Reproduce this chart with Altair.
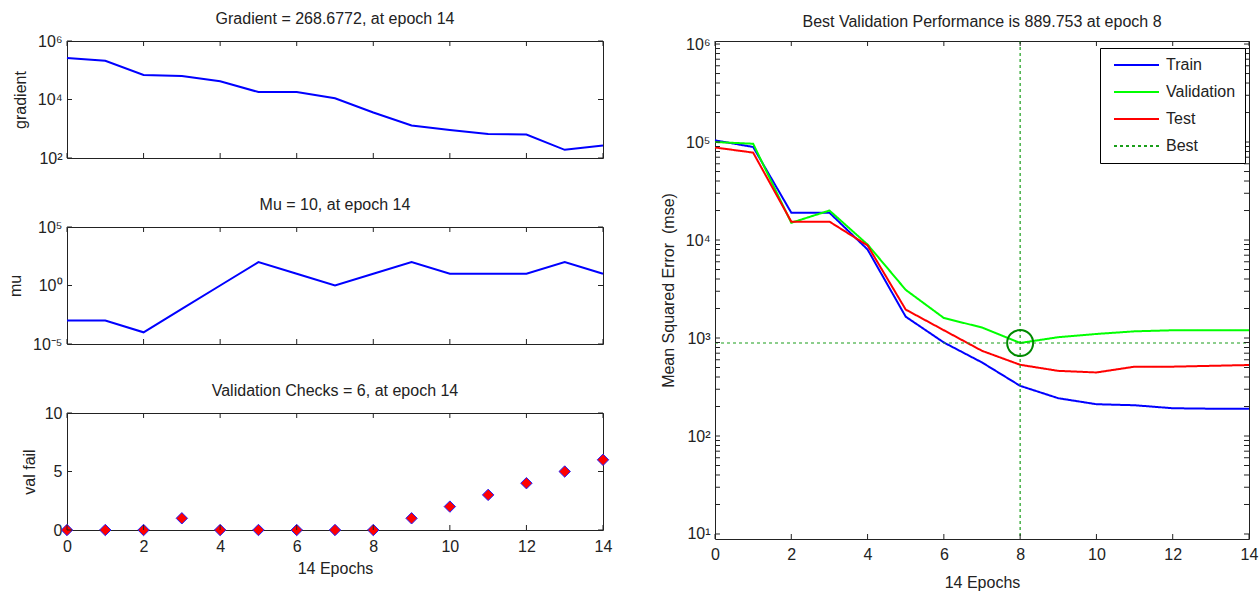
import altair as alt
import pandas as pd

# ---------------- data ----------------
epochs = list(range(15))
gradient = [2.6e5, 2.1e5, 6.9e4, 6.3e4, 4.2e4, 1.8e4, 1.8e4, 1.1e4, 3.6e3, 1.3e3,
            9.1e2, 6.6e2, 6.3e2, 1.9e2, 268.6772]
mu = [1e-3, 1e-3, 1e-4, 1e-2, 1e0, 1e2, 1e1, 1e0, 1e1, 1e2, 1e1, 1e1, 1e1, 1e2, 1e1]
val_fail = [0, 0, 0, 1, 0, 0, 0, 0, 0, 1, 2, 3, 4, 5, 6]
train = [1.04e5, 8.9e4, 1.9e4, 1.9e4, 8.0e3, 1.65e3, 900, 563, 325, 243, 211, 206, 192, 190, 190]
validation = [1.0e5, 9.6e4, 1.5e4, 2.0e4, 9.0e3, 3.1e3, 1.6e3, 1.28e3, 889.753, 1.02e3,
              1.1e3, 1.17e3, 1.2e3, 1.2e3, 1.2e3]
test = [8.8e4, 7.8e4, 1.54e4, 1.54e4, 8.8e3, 1.95e3, 1.2e3, 740, 533, 462, 445, 510, 510, 520, 530]
series_names = ["Train", "Validation", "Test", "Best"]
series_colors = ["#0000ff", "#00ff00", "#ff0000", "#1a9e1a"]
best_epoch = 8
best_perf = 889.753

xticks = list(range(0, 15, 2))
grad_ticks = [1e2, 1e4, 1e6]
mu_ticks = [1e-5, 1e0, 1e5]
fail_ticks = [0, 5, 10]
perf_major = [1e1, 1e2, 1e3, 1e4, 1e5, 1e6]
perf_minor = [m * 10 ** k for k in range(1, 6) for m in range(2, 10)]
perf_ylim = [8.89, 1.074e6]

# ---------------- style ----------------
INK = "#222222"
FONT = "Liberation Sans, Arial, sans-serif"
WL, HL = 536, 117
WR, HR = 534, 498
TL = 5
PAD_L, PAD_T = 7, 10
SUP = ("'10' + (round(log(datum.value)/LN10) < 0 ? '\u207b' : '') + "
       "['\u2070','\u00b9','\u00b2','\u00b3','\u2074','\u2075','\u2076','\u2077','\u2078','\u2079']"
       "[abs(round(log(datum.value)/LN10))]")

xscale = alt.Scale(domain=[0, 14], nice=False)


def x_axis(show=True, lpad=8, tpad=6):
    if not show:
        return alt.Axis(labels=False, ticks=False, domain=False, grid=False, title=None)
    return alt.Axis(values=xticks, ticks=False, domain=False, grid=False, labelFlush=False,
                    labelPadding=lpad, title="14 Epochs", titlePadding=tpad, labelFontSize=16,
                    titleFontSize=16, titleFontWeight="normal")


def y_axis(title, values, log=True, tpad=9):
    kw = dict(values=values, ticks=False, domain=False, grid=False, labelFlush=False,
              labelOverlap=False, labelPadding=5, title=title, titlePadding=tpad,
              labelFontSize=16, titleFontSize=16, titleFontWeight="normal")
    if log:
        kw["labelExpr"] = SUP
    return alt.Axis(**kw)


def tick_rules(W, H, yvals, xax, yax):
    xdf = pd.DataFrame({"epoch": xticks})
    ydf = pd.DataFrame({"v": yvals})
    m = dict(color=INK, strokeWidth=1)
    return [
        alt.Chart(xdf).mark_rule(**m).encode(x=alt.X("epoch:Q", axis=xax),
                                              y=alt.value(H), y2=alt.value(H - TL)),
        alt.Chart(xdf).mark_rule(**m).encode(x=alt.X("epoch:Q", axis=xax),
                                              y=alt.value(0), y2=alt.value(TL)),
        alt.Chart(ydf).mark_rule(**m).encode(y=alt.Y("v:Q", axis=yax),
                                              x=alt.value(0), x2=alt.value(TL)),
        alt.Chart(ydf).mark_rule(**m).encode(y=alt.Y("v:Q", axis=yax),
                                              x=alt.value(W), x2=alt.value(W - TL)),
    ]


def ptitle(text):
    return alt.TitleParams(text=text, fontSize=16, fontWeight="normal", font=FONT, color=INK)


# ---------------- gradient ----------------
xa, ya = x_axis(False), y_axis("gradient", grad_ticks)
gdf = pd.DataFrame({"epoch": epochs, "v": gradient})
g_line = alt.Chart(gdf).mark_line(color="#0000ff", strokeWidth=2).encode(
    x=alt.X("epoch:Q", scale=xscale, axis=xa),
    y=alt.Y("v:Q", scale=alt.Scale(type="log", domain=[1e2, 1e6], nice=False), axis=ya),
)
p1 = alt.layer(g_line, *tick_rules(WL, HL, grad_ticks, xa, ya)).properties(
    width=WL, height=HL, title=ptitle("Gradient = 268.6772, at epoch 14"))

# ---------------- mu ----------------
xa, ya = x_axis(False), y_axis("mu", mu_ticks)
mdf = pd.DataFrame({"epoch": epochs, "v": mu})
m_line = alt.Chart(mdf).mark_line(color="#0000ff", strokeWidth=2).encode(
    x=alt.X("epoch:Q", scale=xscale, axis=xa),
    y=alt.Y("v:Q", scale=alt.Scale(type="log", domain=[1e-5, 1e5], nice=False), axis=ya),
)
p2 = alt.layer(m_line, *tick_rules(WL, HL, mu_ticks, xa, ya)).properties(
    width=WL, height=HL, title=ptitle("Mu = 10, at epoch 14"))

# ---------------- val fail ----------------
xa, ya = x_axis(True, 8, 6), y_axis("val fail", fail_ticks, log=False, tpad=7)
fdf = pd.DataFrame({"epoch": epochs, "v": val_fail})
f_pts = alt.Chart(fdf).mark_point(shape="diamond", filled=True, fill="#ff0000", stroke="#2020ff",
                                  strokeWidth=1, size=130, opacity=1).encode(
    x=alt.X("epoch:Q", scale=xscale, axis=xa),
    y=alt.Y("v:Q", scale=alt.Scale(domain=[0, 10], nice=False), axis=ya),
)
p3 = alt.layer(f_pts, *tick_rules(WL, HL, fail_ticks, xa, ya)).properties(
    width=WL, height=HL, title=ptitle("Validation Checks = 6, at epoch 14"))

# ---------------- performance ----------------
xa, ya = x_axis(True, 7, 12), y_axis("Mean Squared Error\u00a0 (mse)", perf_major)
perf = pd.DataFrame({
    "epoch": epochs * 3,
    "v": train + validation + test,
    "series": ["Train"] * 15 + ["Validation"] * 15 + ["Test"] * 15,
})
cscale = alt.Scale(domain=series_names, range=series_colors)
dscale = alt.Scale(domain=series_names, range=[[1, 0], [1, 0], [1, 0], [3, 3]])
leg = alt.Legend(title=None, orient="none", legendX=1100 - 67, legendY=48 - 41,
                 symbolType="M-1,0H14", symbolSize=36, symbolStrokeWidth=2,
                 labelOffset=41, labelFontSize=16, labelFont=FONT, labelColor=INK,
                 strokeColor="#000000", fillColor="#ffffff", padding=9, rowPadding=11)
perf_lines = alt.Chart(perf).mark_line(strokeWidth=2).encode(
    x=alt.X("epoch:Q", scale=xscale, axis=xa),
    y=alt.Y("v:Q", scale=alt.Scale(type="log", domain=perf_ylim, nice=False), axis=ya),
    color=alt.Color("series:N", scale=cscale, legend=leg),
    strokeDash=alt.StrokeDash("series:N", scale=dscale, legend=leg),
)
vbest = alt.Chart(pd.DataFrame({"epoch": [best_epoch], "series": ["Best"]})).mark_rule(
    strokeWidth=1.2).encode(
    x=alt.X("epoch:Q", axis=xa), y=alt.value(0), y2=alt.value(HR),
    color=alt.Color("series:N", scale=cscale, legend=leg),
    strokeDash=alt.StrokeDash("series:N", scale=dscale, legend=leg),
)
hbest = alt.Chart(pd.DataFrame({"v": [best_perf], "series": ["Best"]})).mark_rule(
    strokeWidth=1.2).encode(
    y=alt.Y("v:Q", axis=ya), x=alt.value(0), x2=alt.value(WR),
    color=alt.Color("series:N", scale=cscale, legend=leg),
    strokeDash=alt.StrokeDash("series:N", scale=dscale, legend=leg),
)
circ = alt.Chart(pd.DataFrame({"epoch": [best_epoch], "v": [best_perf]})).mark_point(
    shape="circle", filled=False, color="#008a00", strokeWidth=2, size=676, opacity=1).encode(
    x=alt.X("epoch:Q", axis=xa), y=alt.Y("v:Q", axis=ya))
p4 = alt.layer(perf_lines, vbest, hbest, circ,
               *tick_rules(WR, HR, perf_major + perf_minor, xa, ya)).properties(
    width=WR, height=HR, title=ptitle("Best Validation Performance is 889.753 at epoch 8"))

left = alt.vconcat(p1, p2, p3, spacing=29)
chart = alt.hconcat(left, p4, spacing=46).properties(
    padding={"left": PAD_L, "top": PAD_T, "right": 0, "bottom": 0})
chart = chart.configure_view(stroke=INK, strokeWidth=1).configure_axis(
    labelFont=FONT, titleFont=FONT, labelColor=INK, titleColor=INK
).configure_title(font=FONT, fontSize=16, fontWeight="normal", color=INK, offset=6)

chart.save("out.html", embed_options={"renderer": "svg", "actions": False})
